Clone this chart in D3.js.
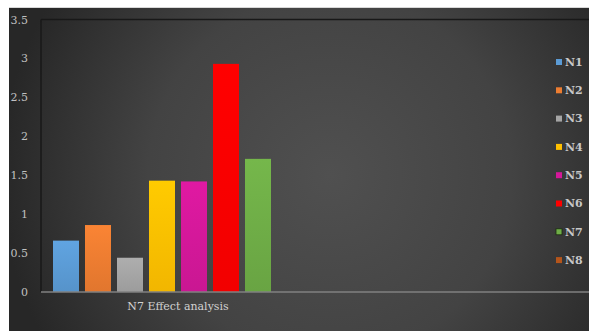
<!DOCTYPE html>
<html><head><meta charset="utf-8">
<script src="https://cdn.jsdelivr.net/npm/d3@7"></script>
<style>html,body{margin:0;padding:0;background:#fff;}svg{display:block;}</style>
</head><body>
<script>
const categories = ["N7 Effect analysis", ""];
const seriesNames = ["N1","N2","N3","N4","N5","N6","N7","N8"];
const values = [0.66, 0.86, 0.44, 1.43, 1.42, 2.93, 1.71, 0];
const seriesColors = ["#5b9bd5","#ed7d31","#a5a5a5","#ffc000","#d4189a","#ff0000","#6fad47","#b5551b"];
const yTicks = [0, 0.5, 1, 1.5, 2, 2.5, 3, 3.5];

(function(){
const W = 589, H = 331;
const svg = d3.select("body").append("svg").attr("width", W).attr("height", H);
const defs = svg.append("defs");
const rg = defs.append("radialGradient").attr("id","bg")
  .attr("gradientUnits","userSpaceOnUse").attr("cx",330).attr("cy",175).attr("r",330);
rg.append("stop").attr("offset","0%").attr("stop-color","#505050");
rg.append("stop").attr("offset","55%").attr("stop-color","#434343");
rg.append("stop").attr("offset","100%").attr("stop-color","#272727");

seriesColors.forEach((c,i)=>{
  const g = defs.append("linearGradient").attr("id","bar"+i).attr("x1",0).attr("y1",0).attr("x2",0).attr("y2",1);
  g.append("stop").attr("offset","0%").attr("stop-color", d3.color(c).brighter(0.15));
  g.append("stop").attr("offset","100%").attr("stop-color", d3.color(c).darker(0.15));
});

svg.append("rect").attr("x",0).attr("y",0).attr("width",W).attr("height",H).attr("fill","#ffffff");
svg.append("rect").attr("x",9).attr("y",7).attr("width",W-9).attr("height",H-7).attr("fill","url(#bg)");
svg.append("line").attr("x1",9).attr("x2",W).attr("y1",7.5).attr("y2",7.5).attr("stroke","#d8d8d8").attr("stroke-width",1);

const pLeft = 41, pRight = 589, pTop = 19.5, pBottom = 292;
const y = d3.scaleLinear().domain([0, 3.5]).range([pBottom, pTop]);
const x0 = d3.scaleBand().domain(categories).range([pLeft, pRight]);
const x1 = d3.scaleBand().domain(seriesNames).range([0, x0.bandwidth()]).paddingInner(0.1875).paddingOuter(0.375);

svg.append("line").attr("x1",pLeft).attr("x2",W).attr("y1",pTop).attr("y2",pTop).attr("stroke","#181818").attr("stroke-width",1.5);
svg.append("line").attr("x1",pLeft).attr("x2",pLeft).attr("y1",pTop).attr("y2",pBottom).attr("stroke","#181818").attr("stroke-width",1.5);

const g = svg.append("g").attr("transform",`translate(${x0(categories[0])},0)`);
g.selectAll("rect").data(values).join("rect")
  .attr("x",(d,i)=>x1(seriesNames[i]))
  .attr("y",d=>y(d))
  .attr("width",x1.bandwidth())
  .attr("height",d=>pBottom - y(d))
  .attr("fill",(d,i)=>`url(#bar${i})`);

svg.append("line").attr("x1",pLeft).attr("x2",W).attr("y1",pBottom).attr("y2",pBottom).attr("stroke","#808080").attr("stroke-width",1.5);

const yAxis = d3.axisLeft(y).tickValues(yTicks).tickSize(0).tickPadding(0).tickFormat(d=>String(d));
const ya = svg.append("g").attr("transform","translate(28,0)").call(yAxis);
ya.select(".domain").remove();
ya.selectAll("text").attr("fill","#c0c0c0").style("font-family","'DejaVu Serif', serif").style("font-size","11px");

const xAxis = d3.axisBottom(x0).tickSize(0).tickPadding(0);
const xa = svg.append("g").attr("transform",`translate(0,${pBottom+10})`).call(xAxis);
xa.select(".domain").remove();
xa.selectAll("text").attr("fill","#d2d2d2").style("font-family","'DejaVu Serif', serif").style("font-size","11px");

const lg = svg.append("g");
const item = lg.selectAll("g").data(seriesNames).join("g")
  .attr("transform",(d,i)=>`translate(556,${62 + i*28.3})`);
item.append("rect").attr("x",0).attr("y",-3).attr("width",6).attr("height",6)
  .attr("fill",(d,i)=>seriesColors[i]).attr("stroke",(d,i)=>i===6?"#1a2a10":"none").attr("stroke-width",0.8);
item.append("text").attr("x",9).attr("y",0).attr("dy","0.35em").text(d=>d)
  .attr("fill","#c8c8c8").style("font-family","'DejaVu Serif', serif").style("font-size","11px").style("font-weight","bold");
})();
</script>
</body></html>
